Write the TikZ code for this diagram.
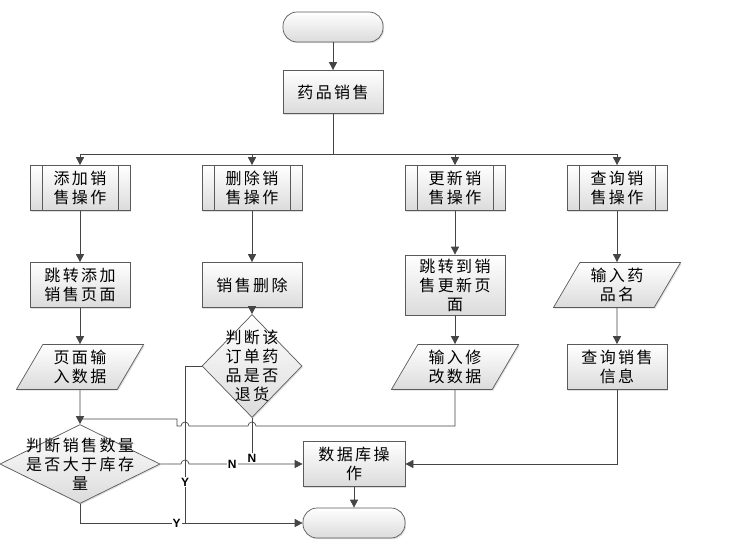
\documentclass[tikz,border=0pt]{standalone}
\usepackage{fontspec}
\newfontfamily\cjk[LetterSpace=15]{Noto Sans CJK SC}
\newfontfamily\latn{Liberation Sans}
\usetikzlibrary{shapes.geometric, arrows.meta, shadows}

\definecolor{linec}{HTML}{454545}
\definecolor{edgec}{HTML}{5A5A5A}

\begin{document}
\begin{tikzpicture}[x=1pt, y=-1pt,
    font=\cjk\fontsize{16}{19}\selectfont,
    every node/.style={align=center, inner sep=0pt},
    shape base/.style={draw=edgec, line width=0.7pt, top color=white, bottom color=black!14,
      drop shadow={shadow xshift=1.2pt, shadow yshift=-1.2pt, opacity=.25}},
    procbox/.style={shape base, rectangle, minimum width=100pt, minimum height=45pt},
    subproc/.style={procbox, path picture={
        \draw[edgec] ([xshift=12pt]path picture bounding box.north west) -- ([xshift=12pt]path picture bounding box.south west);
        \draw[edgec] ([xshift=-12pt]path picture bounding box.north east) -- ([xshift=-12pt]path picture bounding box.south east);}},
    terminal/.style={shape base, rectangle, rounded corners=14pt, minimum width=100pt, minimum height=30pt},
    iobox/.style={shape base, trapezium, trapezium left angle=61, trapezium right angle=119,
      trapezium stretches=true, minimum width=128pt, minimum height=45pt},
    decide/.style={shape base, diamond},
    arr/.style={draw=linec, line width=0.7pt, -{Triangle[width=8pt, length=8pt]}},
    wire/.style={draw=linec, line width=0.7pt},
    yn/.style={font=\latn\bfseries\fontsize{12}{12}\selectfont, fill=white, inner sep=1pt}]

  \useasboundingbox (0,0) rectangle (754,543);

  % top
  \node[terminal] (start) at (333,27) {};
  \node[procbox, minimum height=43pt] (sale) at (333,92) {药品销售};

  % four operations
  \node[subproc] (add) at (80,188)  {添加销\\售操作};
  \node[subproc] (del) at (252,188) {删除销\\售操作};
  \node[subproc] (upd) at (455,188) {更新销\\售操作};
  \node[subproc] (qry) at (617,188) {查询销\\售操作};

  \node[procbox] (addpg) at (80,285) {跳转添加\\销售页面};
  \node[procbox] (delx)  at (252,285) {销售删除};
  \node[procbox, minimum height=60pt] (updpg) at (455,285) {跳转到销\\售更新页\\面};
  \node[iobox] (qname) at (617,285) {输入药\\品名};

  \node[iobox] (addin) at (80,367) {页面输\\入数据};
  \node[decide, minimum width=100pt, minimum height=103pt,
    label={center:判断该\\订单药\\品是否\\退货}] (chk) at (252,366) {};
  \node[iobox] (updin) at (455,367) {输入修\\改数据};
  \node[procbox] (qinfo) at (617,367) {查询销售\\信息};

  \node[decide, minimum width=160pt, minimum height=79pt,
    label={center:判断销售数量\\是否大于库存\\量}] (cmp) at (80,464) {};
  \node[procbox, minimum width=102pt] (db) at (354,464) {数据库操\\作};
  \node[terminal, minimum width=102pt] (end) at (354,523) {};

  \node[yn] (nchk) at (252,458) {N};
  \coordinate (ycol) at (185,366);

  % connectors
  \draw[arr] (start) -- (sale);
  \foreach \n in {add,del,upd,qry}
    \draw[arr] (sale.south) -- ++(0,40) -| (\n.north);
  \draw[arr] (add) -- (addpg);
  \draw[arr] (addpg) -- (addin);
  \draw[arr] (addin) -- (cmp.north);
  \draw[arr] (del) -- (delx);
  \draw[arr] (delx) -- (chk.north);
  \draw[arr] (upd) -- (updpg);
  \draw[arr] (updpg) -- (updin);
  \draw[arr] (qry) -- (qname);
  \draw[arr] (qname) -- (qinfo);

  \draw[wire] (updin.south) -- (updin.south |- 0,426) -- (256,426) arc (0:-180:4)
    -- (189,426) arc (0:-180:4) -- (177,426) -- (177,419) -- (addin.south |- 0,419);
  \draw[arr] (cmp.east) -- (181,464) arc (180:360:4) -- node[yn, pos=.38] {N} (db.west);
  \draw[wire] (chk.south) -- (nchk);
  \draw[arr] (chk.west) -- (ycol) |- node[yn, pos=.37] {Y} (end.west);
  \draw[wire] (cmp.south) |- node[yn, pos=.96] {Y} (ycol |- end.west);
  \draw[arr] (qinfo.south) |- (db.east);
  \draw[arr] (db) -- (end);
\end{tikzpicture}
\end{document}
